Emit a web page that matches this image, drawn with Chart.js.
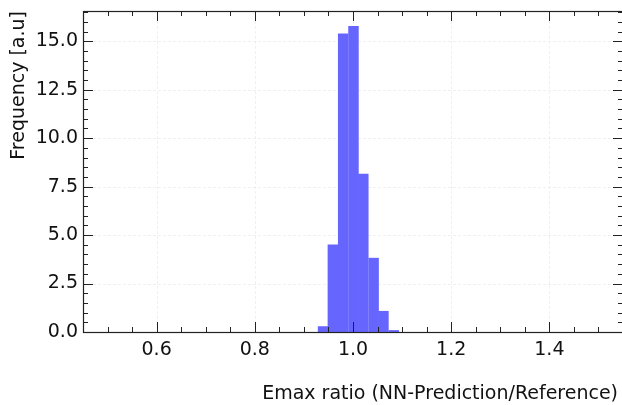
<!DOCTYPE html>
<html>
<head>
<meta charset="utf-8">
<script src="https://cdn.jsdelivr.net/npm/chart.js@4.4.0/dist/chart.umd.min.js"></script>
<style>
  html, body { margin: 0; padding: 0; background: #fff; overflow: hidden; }
  #wrap { width: 626px; height: 405px; }
</style>
</head>
<body>
<div id="wrap"><canvas id="histChart" width="626" height="405"></canvas></div>
<script>
// --- data ---
const binCenters = [0.939, 0.959, 0.980, 1.001, 1.021, 1.042, 1.062, 1.083];
const frequencies = [0.28, 4.50, 15.38, 15.77, 8.15, 3.81, 1.07, 0.08];
const xTicks = [0.6, 0.8, 1.0, 1.2, 1.4];
const yTicks = [0.0, 2.5, 5.0, 7.5, 10.0, 12.5, 15.0];
const xMinorStep = 0.05;
const yMinorStep = 0.5;

const FONT = 'DejaVu Sans';
const FONT_SIZE = 19;

// ticks pointing inward on all four sides, dashed grid, frame, axis titles
const framePlugin = {
    id: 'frame',
    beforeDatasetsDraw(chart) {
        const { ctx, chartArea: a, scales } = chart;
        ctx.save();
        ctx.strokeStyle = '#ececec';
        ctx.lineWidth = 0.8;
        ctx.setLineDash([3, 2]);
        xTicks.forEach(v => {
            const x = Math.round(scales.x.getPixelForValue(v)) + 0.5;
            ctx.beginPath(); ctx.moveTo(x, a.top); ctx.lineTo(x, a.bottom); ctx.stroke();
        });
        yTicks.forEach(v => {
            const y = Math.round(scales.y.getPixelForValue(v)) + 0.5;
            ctx.beginPath(); ctx.moveTo(a.left, y); ctx.lineTo(a.right, y); ctx.stroke();
        });
        ctx.restore();
    },
    afterDraw(chart) {
        const { ctx, chartArea: a, scales } = chart;
        ctx.save();
        ctx.strokeStyle = '#222';
        ctx.lineWidth = 1;
        ctx.setLineDash([]);

        function xTick(v, len) {
            const x = Math.round(scales.x.getPixelForValue(v)) + 0.5;
            ctx.beginPath();
            ctx.moveTo(x, a.bottom); ctx.lineTo(x, a.bottom - len);
            ctx.moveTo(x, a.top); ctx.lineTo(x, a.top + len);
            ctx.stroke();
        }
        function yTick(v, len) {
            const y = Math.round(scales.y.getPixelForValue(v)) + 0.5;
            ctx.beginPath();
            ctx.moveTo(a.left, y); ctx.lineTo(a.left + len, y);
            ctx.moveTo(a.right, y); ctx.lineTo(a.right - len, y);
            ctx.stroke();
        }
        const xs = scales.x, ys = scales.y;
        for (let v = Math.ceil(xs.min / xMinorStep) * xMinorStep; v <= xs.max + 1e-9; v += xMinorStep) {
            xTick(v, 5);
        }
        for (let v = 0; v <= ys.max + 1e-9; v += yMinorStep) {
            yTick(v, 5);
        }
        xTicks.forEach(v => xTick(v, 10));
        yTicks.forEach(v => yTick(v, 10));

        ctx.lineWidth = 1.2;
        ctx.strokeRect(Math.round(a.left) + 0.5, Math.round(a.top) + 0.5,
                       Math.round(a.right - a.left), Math.round(a.bottom - a.top));

        // axis titles
        ctx.fillStyle = '#111';
        ctx.font = FONT_SIZE + 'px "' + FONT + '"';
        ctx.textAlign = 'right';
        ctx.textBaseline = 'alphabetic';
        ctx.fillText('Emax ratio (NN-Prediction/Reference)', a.right - 5, 399);

        ctx.translate(24, a.top);
        ctx.rotate(-Math.PI / 2);
        ctx.textAlign = 'right';
        ctx.fillText('Frequency [a.u]', 0, 0);
        ctx.restore();
    }
};

function noPad(s) {
    s.paddingTop = 0; s.paddingBottom = 0;
    s.paddingLeft = 0; s.paddingRight = 0;
}

document.addEventListener('DOMContentLoaded', function() {
    const ctx = document.getElementById('histChart').getContext('2d');
    new Chart(ctx, {
        type: 'bar',
        data: {
            datasets: [{
                data: binCenters.map((c, i) => ({ x: c, y: frequencies[i] })),
                backgroundColor: '#6666ff',
                borderWidth: 0,
                barPercentage: 1,
                categoryPercentage: 1
            }]
        },
        options: {
            responsive: false,
            animation: false,
            layout: { padding: { top: 11, right: 3, left: 0, bottom: 0 } },
            plugins: { legend: { display: false }, tooltip: { enabled: false } },
            scales: {
                x: {
                    type: 'linear',
                    min: 0.45,
                    max: 1.55,
                    offset: false,
                    afterBuildTicks: s => { s.ticks = xTicks.map(v => ({ value: v })); },
                    afterFit: s => { s.height = 73; noPad(s); },
                    grid: { display: false, drawTicks: false },
                    border: { display: false },
                    ticks: {
                        padding: 7,
                        color: '#111',
                        font: { family: FONT, size: FONT_SIZE },
                        maxRotation: 0,
                        callback: v => v.toFixed(1)
                    }
                },
                y: {
                    min: 0,
                    max: 16.56,
                    afterBuildTicks: s => { s.ticks = yTicks.map(v => ({ value: v })); },
                    afterFit: s => { s.width = 83; noPad(s); },
                    grid: { display: false, drawTicks: false },
                    border: { display: false },
                    ticks: {
                        padding: 5,
                        color: '#111',
                        font: { family: FONT, size: FONT_SIZE },
                        callback: v => v.toFixed(1)
                    }
                }
            }
        },
        plugins: [framePlugin]
    });
});
</script>
</body>
</html>
